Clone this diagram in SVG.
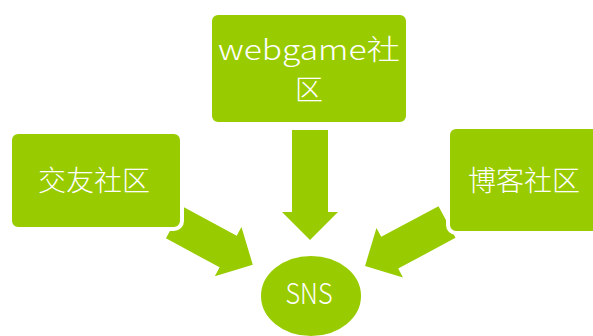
<svg xmlns="http://www.w3.org/2000/svg" width="593" height="336" viewBox="0 0 593 336">
  <style>
    .fill { fill: #99cc00; }
    .node { fill: #99cc00; stroke: #ffffff; stroke-width: 4; }
    .label { fill: #ffffff; font-family: "Noto Sans CJK SC", "Noto Sans", "DejaVu Sans", sans-serif; font-weight: 300; font-size: 28px; text-anchor: middle; }
  </style>

  <rect width="593" height="336" fill="#ffffff"/>

  <!-- connectors: block arrows, each drawn along +x from its tail centre, then rotated -->
  <g id="connectors" class="fill">
    <path transform="translate(310,130) rotate(90)" d="M0,-18 H82 V-28 L110,0 L82,28 V18 H0 Z"/>
    <path transform="translate(174.5,222.5) rotate(28.4)" d="M0,-18 H61 V-28 L89,0 L61,28 V18 H0 Z"/>
    <path transform="translate(447,222) rotate(151.8)" d="M0,-18 H65 V-28 L93,0 L65,28 V18 H0 Z"/>
  </g>

  <!-- nodes -->
  <g id="node-webgame">
    <rect class="node" x="210" y="13" width="198" height="111" rx="8"/>
    <text class="label" x="309" y="60" textLength="182" lengthAdjust="spacingAndGlyphs">webgame社</text>
    <text class="label" x="309" y="100">区</text>
  </g>

  <g id="node-friends">
    <rect class="node" x="10" y="132" width="172" height="97" rx="8"/>
    <text class="label" x="94" y="191">交友社区</text>
  </g>

  <g id="node-blog">
    <rect class="node" x="448" y="127" width="160" height="106" rx="8"/>
    <text class="label" x="524" y="191">博客社区</text>
  </g>

  <g id="node-sns">
    <ellipse class="node" cx="311" cy="296" rx="52" ry="42"/>
    <text class="label" x="309" y="304" font-size="29" textLength="47" lengthAdjust="spacingAndGlyphs">SNS</text>
  </g>
</svg>
